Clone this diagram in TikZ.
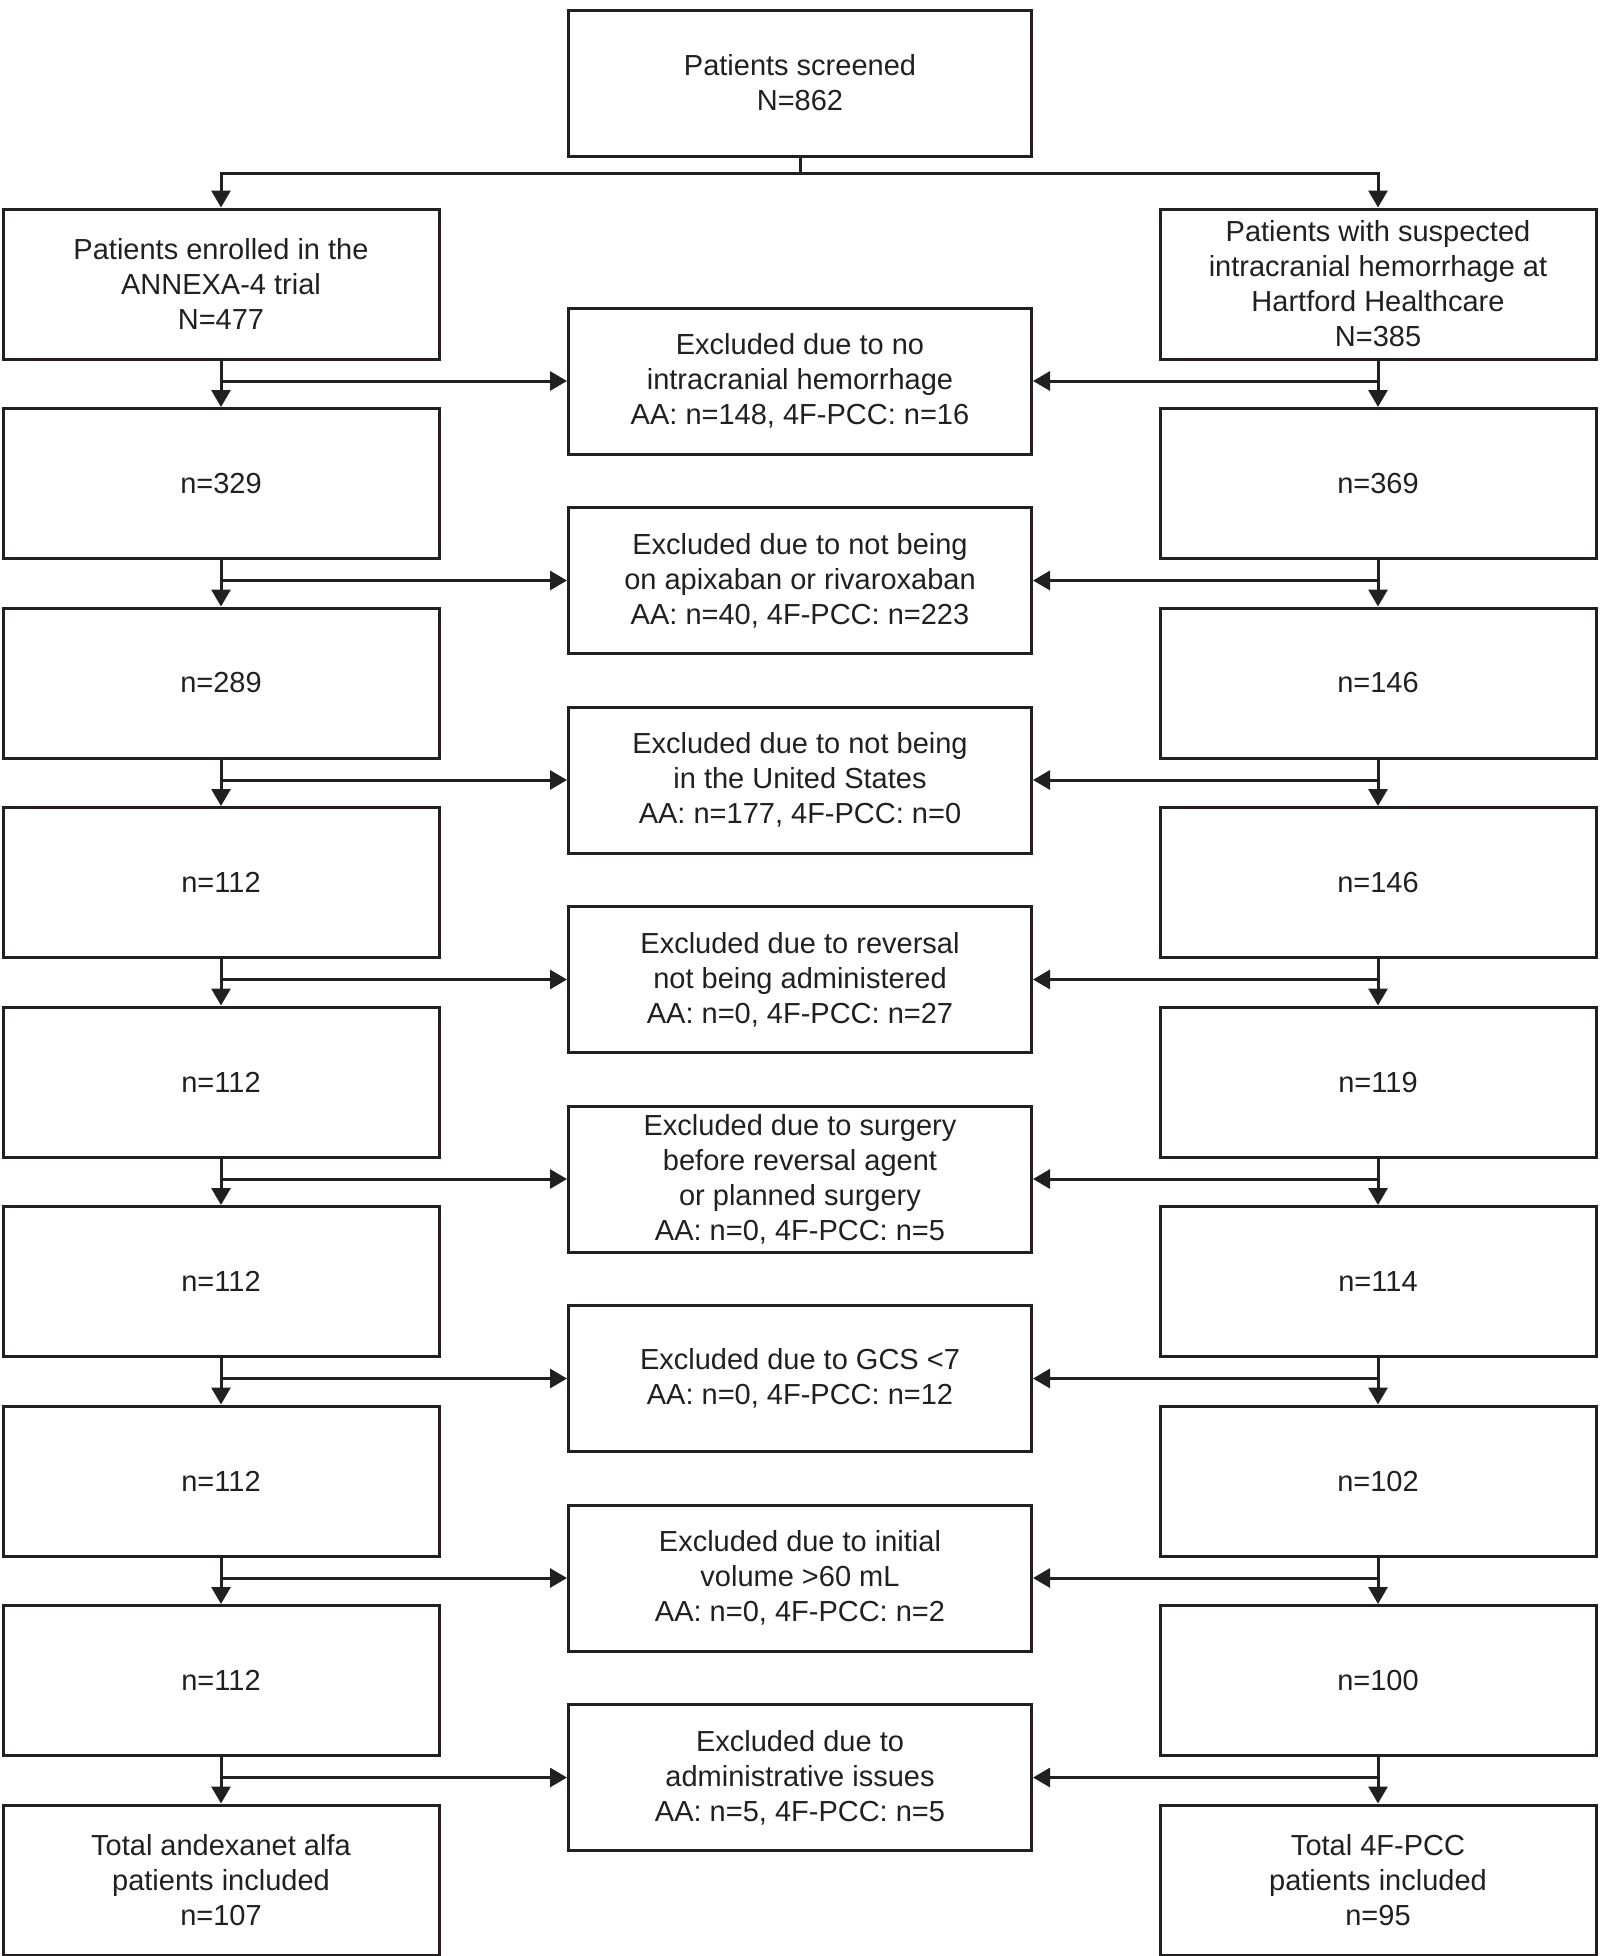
\documentclass[tikz,border=0pt]{standalone}
\usepackage{fontspec}
\setmainfont{Liberation Sans}
\usetikzlibrary{arrows.meta, positioning, calc}
\definecolor{ink}{HTML}{231F20}

\begin{document}
\begin{tikzpicture}[x=0.5pt, y=-0.5pt,
  box/.style={draw=ink, line width=1.5pt, align=center, text=ink,
    font=\fontsize{14.5}{17.5}\selectfont, inner sep=0pt},
  side/.style={box, minimum width=218pt, minimum height=75pt},
  excl/.style={box, minimum width=231.5pt, minimum height=73pt},
  link/.style={draw=ink, line width=1.5pt},
  arr/.style={link, -{Triangle[length=8.5pt, width=9.5pt]}}]
\useasboundingbox (0,0) rectangle (1600,1956);

% screening and the two cohorts
\node[excl] (top) at (800,83) {Patients screened\\N=862};
\node[side] (a0) at (221,284) {Patients enrolled in the\\ANNEXA-4 trial\\N=477};
\node[side] (b0) at (1378,284) {Patients with suspected\\intracranial hemorrhage at\\Hartford Healthcare\\N=385};
\coordinate (split) at (800,173);
\draw[link] (top.south) -- (split);
\draw[arr] (split) -| (a0.north);
\draw[arr] (split) -| (b0.north);

% counts left after each step
\foreach \na/\nb [count=\k] in {329/369, 289/146, 112/146, 112/119, 112/114, 112/102, 112/100} {
    \pgfmathsetmacro{\y}{284 + 199.5*\k}
    \node[side] (a\k) at (221,\y) {n=\na};
    \node[side] (b\k) at (1378,\y) {n=\nb};
}
\node[side] (a8) at (221,1880) {Total andexanet alfa\\patients included\\n=107};
\node[side] (b8) at (1378,1880) {Total 4F-PCC\\patients included\\n=95};

% exclusions
\node[excl] (m0) at (800,381) {Excluded due to no\\intracranial hemorrhage\\AA: n=148, 4F-PCC: n=16};
\node[excl] (m1) at (800,580.5) {Excluded due to not being\\on apixaban or rivaroxaban\\AA: n=40, 4F-PCC: n=223};
\node[excl] (m2) at (800,780) {Excluded due to not being\\in the United States\\AA: n=177, 4F-PCC: n=0};
\node[excl] (m3) at (800,979.5) {Excluded due to reversal\\not being administered\\AA: n=0, 4F-PCC: n=27};
\node[excl] (m4) at (800,1179) {Excluded due to surgery\\before reversal agent\\or planned surgery\\AA: n=0, 4F-PCC: n=5};
\node[excl] (m5) at (800,1378.5) {Excluded due to GCS <7\\AA: n=0, 4F-PCC: n=12};
\node[excl] (m6) at (800,1578) {Excluded due to initial\\volume >60 mL\\AA: n=0, 4F-PCC: n=2};
\node[excl] (m7) at (800,1777.5) {Excluded due to\\administrative issues\\AA: n=5, 4F-PCC: n=5};

% flow arrows
\foreach \k [evaluate=\k as \j using int(\k+1)] in {0,...,7} {
    \draw[arr] (a\k.south) -- (a\j.north);
    \draw[arr] (b\k.south) -- (b\j.north);
    \draw[arr] (a\k.south |- m\k.west) -- (m\k.west);
    \draw[arr] (b\k.south |- m\k.east) -- (m\k.east);
}
\end{tikzpicture}
\end{document}
